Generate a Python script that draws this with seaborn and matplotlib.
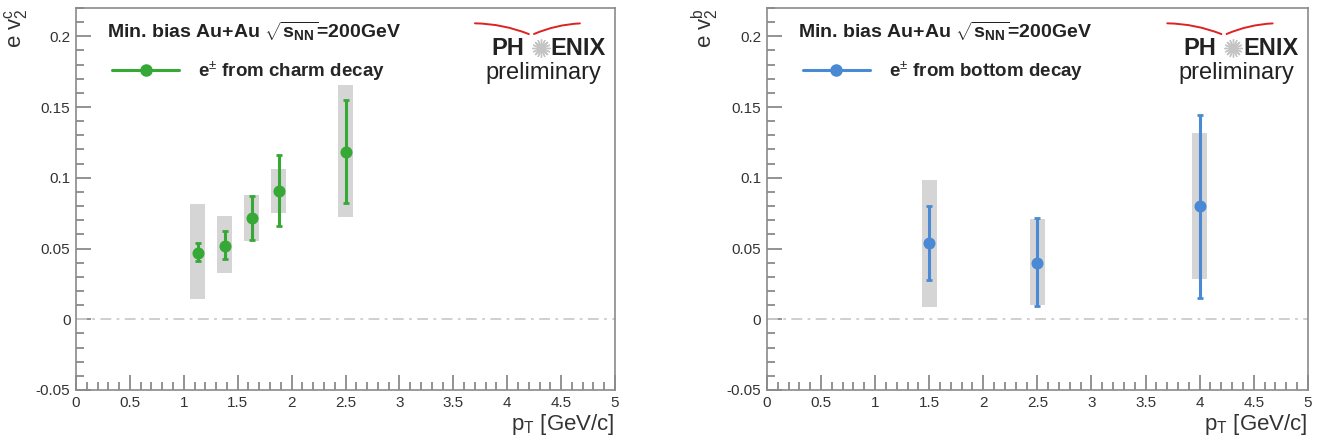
import numpy as np
import matplotlib
matplotlib.use("Agg")
import matplotlib.pyplot as plt
import seaborn as sns
from matplotlib.lines import Line2D
from matplotlib.ticker import MultipleLocator, FuncFormatter


# ==========================================
# DATA
# ==========================================

charm_pt = [1.13, 1.38, 1.63, 1.88, 2.50]
charm_v2 = [0.047, 0.052, 0.0715, 0.0905, 0.1185]
charm_stat_lo = [0.0413, 0.0425, 0.0562, 0.0656, 0.0819]
charm_stat_hi = [0.0536, 0.0623, 0.0869, 0.1161, 0.1550]
charm_sys_lo = [0.0142, 0.0324, 0.0552, 0.0749, 0.0720]
charm_sys_hi = [0.0814, 0.0727, 0.0878, 0.1065, 0.1657]

bottom_pt = [1.5, 2.5, 4.0]
bottom_v2 = [0.0536, 0.0401, 0.0798]
bottom_stat_lo = [0.0274, 0.0092, 0.0151]
bottom_stat_hi = [0.0798, 0.0715, 0.1445]
bottom_sys_lo = [0.0090, 0.0099, 0.0283]
bottom_sys_hi = [0.0984, 0.0706, 0.1315]

x_ticks = [0, 0.5, 1, 1.5, 2, 2.5, 3, 3.5, 4, 4.5, 5]
y_ticks = [-0.05, 0, 0.05, 0.1, 0.15, 0.2]


# ==========================================
# STYLE
# ==========================================

sns.set_theme(style="white")
plt.rcParams["font.family"] = ["Liberation Sans", "DejaVu Sans"]
plt.rcParams["mathtext.fontset"] = "custom"
plt.rcParams["mathtext.rm"] = "Liberation Sans"
plt.rcParams["mathtext.it"] = "Liberation Sans"
plt.rcParams["mathtext.bf"] = "Liberation Sans:bold"

frame_color = "#8a8a8a"
text_color = "#333333"
box_color = "#d5d5d5"
green = "#35a835"
blue = "#4a8ad4"

fig = plt.figure(figsize=(13.2, 4.45), dpi=100)
ax_c = fig.add_axes([0.0576, 0.1236, 0.4083, 0.8584])
ax_b = fig.add_axes([0.5810, 0.1236, 0.4098, 0.8584])


def draw_panel(ax, pt, v2, stat_lo, stat_hi, sys_lo, sys_hi, color, label, ylab):
    pt = np.array(pt)
    v2 = np.array(v2)
    sys_lo = np.array(sys_lo)
    sys_hi = np.array(sys_hi)

    # zero line
    ax.axhline(0, color="#cccccc", lw=1.3, ls=(0, (6, 3, 1.5, 3)), zorder=1)

    # systematic boxes
    ax.bar(pt, sys_hi - sys_lo, bottom=sys_lo, width=0.14,
           color=box_color, edgecolor="none", zorder=2)

    # statistical errors
    yerr = [v2 - np.array(stat_lo), np.array(stat_hi) - v2]
    ax.errorbar(pt, v2, yerr=yerr, fmt="none", ecolor=color,
                elinewidth=2.2, capsize=2, capthick=2, zorder=3)

    sns.scatterplot(x=pt, y=v2, ax=ax, color=color, s=75,
                    edgecolor=color, linewidth=0, zorder=4, legend=False)

    ax.set_xlim(0, 5)
    ax.set_ylim(-0.05, 0.22)
    ax.set_xticks(x_ticks)
    ax.set_yticks(y_ticks)
    ax.xaxis.set_minor_locator(MultipleLocator(0.1))
    ax.yaxis.set_minor_locator(MultipleLocator(0.01))
    ax.xaxis.set_major_formatter(FuncFormatter(lambda v, p: "%g" % v))
    ax.yaxis.set_major_formatter(FuncFormatter(lambda v, p: "%g" % round(v, 3)))

    ax.tick_params(which="both", direction="in", colors=frame_color,
                   labelcolor=text_color, labelsize=11, width=1.3,
                   top=False, right=False, bottom=True, left=True)
    ax.tick_params(which="major", length=11, pad=4)
    ax.tick_params(which="minor", length=6)
    for s in ax.spines.values():
        s.set_color(frame_color)
        s.set_linewidth(1.2)

    ax.set_xlabel(r"p$_{T}$ [GeV/c]", loc="right", fontsize=16,
                  color=text_color, labelpad=2)
    ax.set_ylabel(ylab, loc="top", fontsize=16, color=text_color, labelpad=4)

    # header text
    ax.text(0.058, 0.94, r"Min. bias Au+Au $\sqrt{\mathbf{s_{NN}}}$=200GeV",
            transform=ax.transAxes, fontsize=14, fontweight="bold",
            color="#222222", va="center", ha="left")

    handle = Line2D([], [], color=color, lw=2.2, marker="o", markersize=8)
    ax.legend([handle], [label], loc="center left",
              bbox_to_anchor=(0.035, 0.835), frameon=False,
              handlelength=3.6, handletextpad=1.0,
              prop={"weight": "bold", "size": 13.5})

    # PHENIX preliminary logo
    ax.text(0.770, 0.895, "PH", transform=ax.transAxes, fontsize=17,
            fontweight="bold", color="#222222", ha="left", va="center")
    ax.text(0.880, 0.895, "ENIX", transform=ax.transAxes, fontsize=17,
            fontweight="bold", color="#222222", ha="left", va="center")
    ax.plot([0.862], [0.895], transform=ax.transAxes, marker=(16, 2, 0),
            markersize=13, color="#c4c4c4", mew=1.0, clip_on=False)
    ax.text(0.975, 0.830, "preliminary", transform=ax.transAxes, fontsize=17,
            color="#222222", ha="right", va="center")
    ax.annotate("", xy=(0.845, 0.929), xytext=(0.735, 0.960),
                xycoords="axes fraction",
                arrowprops=dict(arrowstyle="-", color="#dd2222", lw=1.4,
                                connectionstyle="arc3,rad=-0.1"))
    ax.annotate("", xy=(0.940, 0.960), xytext=(0.845, 0.929),
                xycoords="axes fraction",
                arrowprops=dict(arrowstyle="-", color="#dd2222", lw=1.4,
                                connectionstyle="arc3,rad=-0.1"))


draw_panel(ax_c, charm_pt, charm_v2, charm_stat_lo, charm_stat_hi,
           charm_sys_lo, charm_sys_hi, green,
           r"e$^{\pm}$ from charm decay", r"e v$_{2}^{c}$")
draw_panel(ax_b, bottom_pt, bottom_v2, bottom_stat_lo, bottom_stat_hi,
           bottom_sys_lo, bottom_sys_hi, blue,
           r"e$^{\pm}$ from bottom decay", r"e v$_{2}^{b}$")

plt.savefig("out.png", dpi=100)
